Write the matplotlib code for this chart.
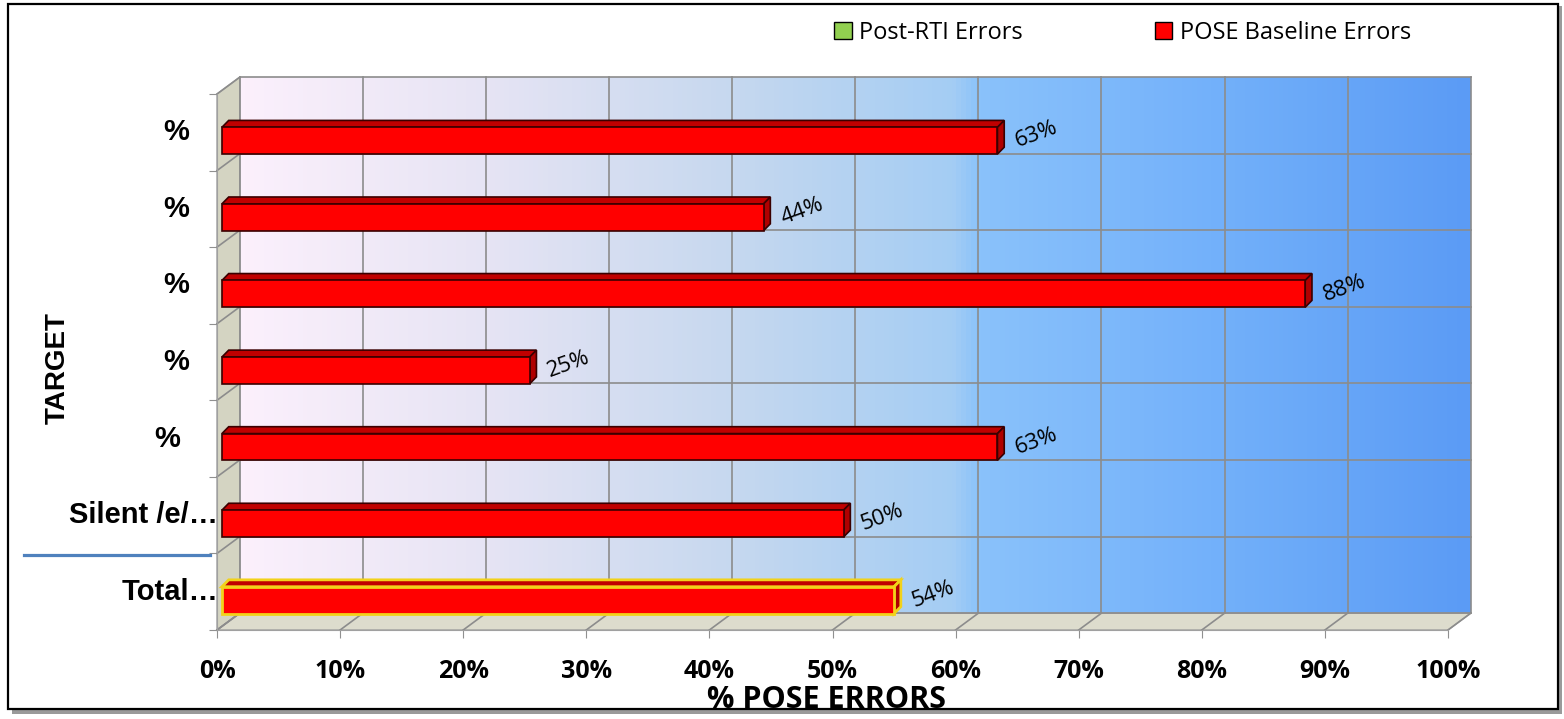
import matplotlib
matplotlib.use('agg')
import matplotlib.pyplot as plt
import numpy as np
from matplotlib.patches import Polygon, Rectangle, Patch
from matplotlib.colors import LinearSegmentedColormap
from matplotlib.lines import Line2D

# 数据（从上到下）
categories = ['%', '%', '%', '%', '%', 'Silent /e/…', 'Total…']
baseline = [63, 44, 88, 25, 63, 50.5, 54.6]
post_rti = []  # 图中没有绿色柱
label_shift = [-28, -28, -28, -28, -37, 1, 1]  # 类别标签水平偏移(px)
xticks = list(range(0, 101, 10))

W, H = 1564, 719
fig = plt.figure(figsize=(W / 100, H / 100), dpi=100)

# 外框 + 阴影
fig.patches.append(Rectangle((12 / W, 1 - 714 / H), 1550 / W, 708 / H, transform=fig.transFigure,
                             facecolor='#9a9a9a', edgecolor='none', zorder=-10))
fig.patches.append(Rectangle((8 / W, 1 - 709 / H), 1550 / W, 705 / H, transform=fig.transFigure,
                             facecolor='white', edgecolor='black', linewidth=1.6, zorder=-9))

ax = fig.add_axes([217 / W, 1 - 630 / H, 1231 / W, 536 / H])
n = len(categories)
ypos = [n - 1 - i for i in range(n)]
dx, dy = 1.85, 0.22  # 3D深度偏移

ax.patch.set_alpha(0)

# 背墙渐变
cmap = LinearSegmentedColormap.from_list('wall', [(0, '#fcf0fc'), (0.2, '#e6e4f4'), (0.4, '#c6d8ef'),
                                                  (0.58, '#a4cdf4'), (0.6, '#8ac2fa'), (0.8, '#72b0fa'),
                                                  (1, '#5b9bf5')])
grad = np.linspace(0, 1, 256).reshape(1, -1)
ax.imshow(grad, cmap=cmap, aspect='auto', extent=[dx, 100 + dx, -0.5 + dy, n - 0.5 + dy],
          zorder=0, clip_on=False)
ax.set_xlim(0, 100)
ax.set_ylim(-0.5, n - 0.5)

# 侧墙与底面
ax.add_patch(Polygon([(0, -0.5), (dx, -0.5 + dy), (dx, n - 0.5 + dy), (0, n - 0.5)],
                     closed=True, facecolor='#d4d4c2', edgecolor='#a0a0a0', lw=1, zorder=0.5, clip_on=False))
ax.add_patch(Polygon([(0, -0.5), (100, -0.5), (100 + dx, -0.5 + dy), (dx, -0.5 + dy)],
                     closed=True, facecolor='#dddccd', edgecolor='#a0a0a0', lw=1, zorder=0.5, clip_on=False))

# 网格线
gc = '#8c8c8c'
for x in xticks:
    ax.plot([x + dx, x + dx], [-0.5 + dy, n - 0.5 + dy], color=gc, lw=1.2, zorder=1, clip_on=False)
    ax.plot([x, x + dx], [-0.5, -0.5 + dy], color=gc, lw=1.2, zorder=1, clip_on=False)
for k in range(n + 1):
    b = k - 0.5
    ax.plot([dx, 100 + dx], [b + dy, b + dy], color=gc, lw=1.2, zorder=1, clip_on=False)
    ax.plot([0, dx], [b, b + dy], color=gc, lw=1.2, zorder=1, clip_on=False)

# 3D柱
x0, bh, boff = 0.4, 0.35, 0.11
bdx, bdy = 0.55, 0.09
for i, v in enumerate(baseline):
    yc = ypos[i] - boff
    total = categories[i].startswith('Total')
    ec = '#f2d21a' if total else '#3a0000'
    lw = 2 if total else 1.2
    y1, y2 = yc - bh / 2, yc + bh / 2
    ax.add_patch(Polygon([(x0, y2), (x0 + v, y2), (x0 + v + bdx, y2 + bdy), (x0 + bdx, y2 + bdy)],
                         closed=True, facecolor='#c00000', edgecolor=ec, lw=lw, zorder=3, clip_on=False))
    ax.add_patch(Polygon([(x0 + v, y1), (x0 + v + bdx, y1 + bdy), (x0 + v + bdx, y2 + bdy), (x0 + v, y2)],
                         closed=True, facecolor='#b00000', edgecolor=ec, lw=lw, zorder=3, clip_on=False))
    ax.add_patch(Rectangle((x0, y1), v, bh, facecolor='#ff0000', edgecolor=ec, lw=lw, zorder=4, clip_on=False))
    ax.text(x0 + v + 1.5, yc - 0.02, '%d%%' % int(v), rotation=20, rotation_mode='anchor',
            ha='left', va='center', fontsize=16, family='Open Sans', zorder=5)

# 坐标轴
for s in ['top', 'right']:
    ax.spines[s].set_visible(False)
for s in ['left', 'bottom']:
    ax.spines[s].set_color('#a0a0a0')
    ax.spines[s].set_zorder(2)
ax.set_xticks(xticks)
ax.set_xticklabels(['%d%%' % x for x in xticks], fontsize=18, fontweight='bold', family='Open Sans')
ax.tick_params(axis='x', length=6, color='#909090', pad=15)
ax.set_yticks([k - 0.5 for k in range(n + 1)])
ax.set_yticklabels([])
ax.tick_params(axis='y', length=6, color='#909090')

for i, c in enumerate(categories):
    ax.annotate(c, xy=(0, ypos[i]), xycoords=('axes fraction', 'data'), xytext=(label_shift[i], 0),
                textcoords='offset pixels', ha='right', va='center', fontsize=21, fontweight='bold',
                family='Liberation Sans', annotation_clip=False)

fig.text(826 / W, 1 - 700 / H, '% POSE ERRORS', ha='center', va='center', fontsize=22,
         fontweight='bold', family='Open Sans')
fig.text(58 / W, 1 - 368 / H, 'TARGET', ha='center', va='center', rotation=90, fontsize=20,
         fontweight='bold', family='Liberation Sans')

# 蓝色短线
fig.lines.append(Line2D([24 / W, 210 / W], [1 - 555 / H, 1 - 555 / H], transform=fig.transFigure,
                        color='#4f81bd', lw=2.3))

# 图例
handles = [Patch(facecolor='#92d050', edgecolor='black', label='Post-RTI Errors'),
           Patch(facecolor='#ff0000', edgecolor='black', label='POSE Baseline Errors')]
fig.legend(handles=handles, loc='center left', bbox_to_anchor=(834 / W, 1 - 33 / H), ncol=2,
           frameon=False, handlelength=0.75, handleheight=0.75, handletextpad=0.3,
           columnspacing=5.6, borderpad=0, borderaxespad=0, prop={'family': 'Open Sans', 'size': 17})

fig.savefig('out.png', dpi=100)
